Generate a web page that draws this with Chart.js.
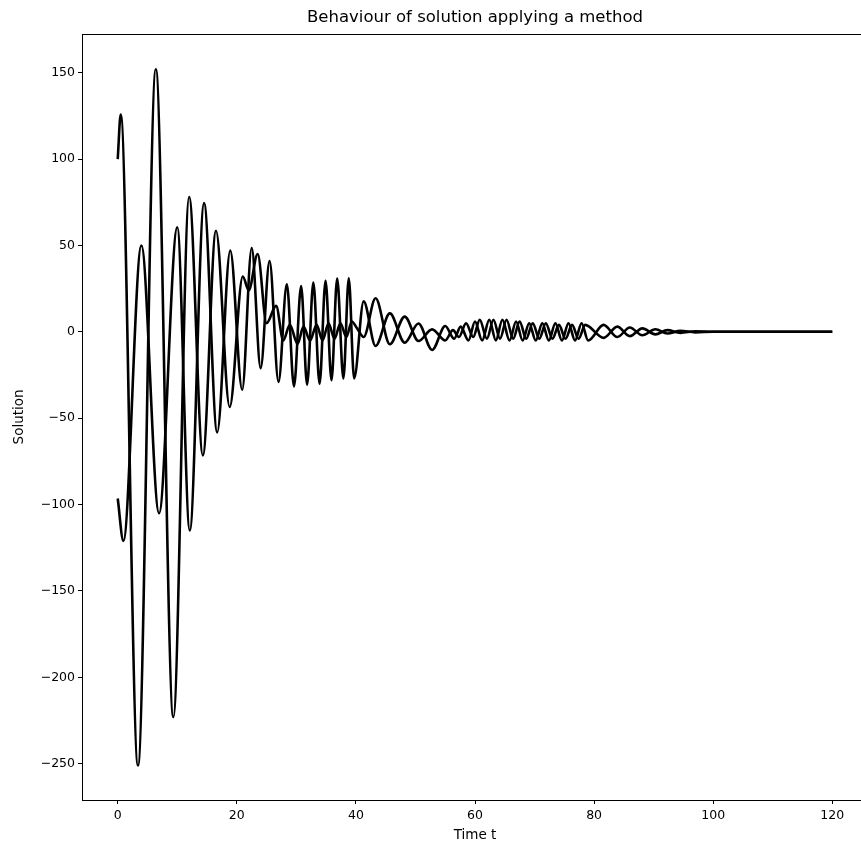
<!DOCTYPE html>
<html><head><meta charset="utf-8">
<script src="https://cdn.jsdelivr.net/npm/chart.js@4.4.1/dist/chart.umd.min.js"></script>
<style>
html,body{margin:0;padding:0;overflow:hidden;background:#fff;}
#wrap{position:relative;width:870px;height:849px;}
</style></head><body>
<div id="wrap"><canvas id="c" width="870" height="849"></canvas></div>
<script>
const chartTitle = 'Behaviour of solution applying a method';
const xAxisLabel = 'Time t';
const yAxisLabel = 'Solution';
const xTickValues = [0, 20, 40, 60, 80, 100, 120];
const yTickValues = [-250, -200, -150, -100, -50, 0, 50, 100, 150];

const timeA = [0, 0.5, 3.4, 6.4, 9.34, 12.0, 14.3, 16.5, 18.8, 21.0, 22.0, 23.5, 25.0, 26.6, 27.8, 28.9, 30.2, 31.2, 32.3, 33.4, 34.4, 35.4, 36.4, 37.4, 38.4, 39.3, 40.2, 41.3, 43.3, 45.7, 48.2, 50.5, 52.8, 55.0, 56.3, 57.3, 58.5, 59.7, 60.8, 62.0, 63.1, 64.2, 65.3, 66.4, 67.5, 68.6, 69.7, 70.8, 71.9, 73.0, 74.1, 75.2, 76.3, 77.4, 78.5, 81.6, 83.9, 86.0, 88.1, 90.3, 92.3, 94.5, 97.0, 100, 120];
const solutionA = [100, 125.7, -251, 152, -223, 78, -71.5, 58.5, -43.5, 32, 24, 45, 5, 15, -5, 4, -7, 3, -5, 4, -5, 5, -4, 5, -3, 6, 2, -3, 19.4, -7.2, 8.8, -5.3, 1.4, -5, 1, -3, 5, -3, 7, -4, 7, -4, 7, -4, 6, -4, 5, -4, 5, -4, 4, -4, 4, -4, 4, -3.5, 3, -2.5, 2, -1.5, 1, -0.6, 0.3, 0, 0];

const timeB = [0, 0.95, 3.97, 6.94, 10.0, 12.1, 14.5, 16.7, 18.9, 20.9, 22.5, 24.0, 25.5, 27.0, 28.4, 29.6, 30.8, 31.8, 32.85, 33.9, 34.9, 35.9, 36.85, 37.9, 38.8, 39.7, 41.3, 43.3, 45.7, 48.2, 50.5, 52.8, 55.0, 56.5, 57.6, 58.9, 60.0, 61.2, 62.4, 63.5, 64.6, 65.8, 66.9, 68.0, 69.1, 70.2, 71.3, 72.4, 73.5, 74.6, 75.7, 76.8, 77.9, 79.0, 81.6, 83.9, 86.0, 88.1, 90.3, 92.3, 94.5, 97.0, 100, 120];
const solutionB = [-96.5, -121, 50, -105, 60.5, -115, 74.5, -58.2, 47, -33.5, 48.5, -21, 41, -29, 27.5, -31.6, 26.5, -30.6, 28.5, -30, 29.5, -28, 30.8, -27, 31, -27, 17.6, -8.2, 10.7, -6.3, 4.8, -10.5, 3.4, -4, 3, -5, 6, -5, 7, -5, 7, -5, 6, -5, 5, -5, 5, -5, 5, -5, 5, -5, 5, -5, 4, -3, 2.5, -2, 1.5, -1, 0.6, -0.3, 0, 0];

const toPoints = (ts, ys) => ts.map((t, i) => ({x: t, y: ys[i]}));
const fmt = v => (v < 0 ? '\u2212' : '') + Math.abs(v);
const FONT = 'DejaVu Sans';

const framePlugin = {
  id: 'frame',
  afterDatasetsDraw(chart) {
    const {ctx, chartArea: a} = chart;
    ctx.save();
    ctx.strokeStyle = '#000';
    ctx.lineWidth = 1;
    ctx.strokeRect(Math.round(a.left) + 0.5, Math.round(a.top) + 0.5, Math.round(a.right - a.left), Math.round(a.bottom - a.top));
    ctx.restore();
  }
};

new Chart(document.getElementById('c'), {
  type: 'line',
  data: {
    datasets: [
      {data: toPoints(timeA, solutionA), borderColor: '#000', borderWidth: 2.6, pointRadius: 0, fill: false, cubicInterpolationMode: 'monotone'},
      {data: toPoints(timeB, solutionB), borderColor: '#000', borderWidth: 2.6, pointRadius: 0, fill: false, cubicInterpolationMode: 'monotone'}
    ]
  },
  options: {
    responsive: false,
    animation: false,
    devicePixelRatio: 1,
    layout: {padding: {left: 0, right: 2, top: 0, bottom: 0}},
    plugins: {
      legend: {display: false},
      tooltip: {enabled: false},
      title: {display: true, text: chartTitle, fullSize: false, color: '#000', font: {family: FONT, size: 16.5, weight: 'normal'}, padding: {top: 8, bottom: 6}}
    },
    scales: {
      x: {
        type: 'linear', min: -6, max: 126,
        afterBuildTicks: s => { s.ticks = xTickValues.map(v => ({value: v})); },
        afterFit: s => { s.height = 49; },
        grid: {display: true, drawOnChartArea: false, drawTicks: true, tickLength: 4, color: '#000', lineWidth: 1},
        border: {display: false},
        ticks: {color: '#000', font: {family: FONT, size: 12.5}, padding: 4, maxRotation: 0, autoSkip: false, callback: v => fmt(v)},
        title: {display: true, text: xAxisLabel, color: '#000', font: {family: FONT, size: 13.5}, padding: {top: 0, bottom: 5}}
      },
      y: {
        type: 'linear', min: -271, max: 172.5,
        afterBuildTicks: s => { s.ticks = yTickValues.map(v => ({value: v})); },
        afterFit: s => { s.width = 82; },
        grid: {display: true, drawOnChartArea: false, drawTicks: true, tickLength: 4, color: '#000', lineWidth: 1},
        border: {display: false},
        ticks: {color: '#000', font: {family: FONT, size: 12.5}, padding: 3, autoSkip: false, callback: v => fmt(v)},
        title: {display: true, text: yAxisLabel, color: '#000', font: {family: FONT, size: 13.5}, padding: {top: 11, bottom: 0}}
      }
    }
  },
  plugins: [framePlugin]
});
</script>
</body></html>
